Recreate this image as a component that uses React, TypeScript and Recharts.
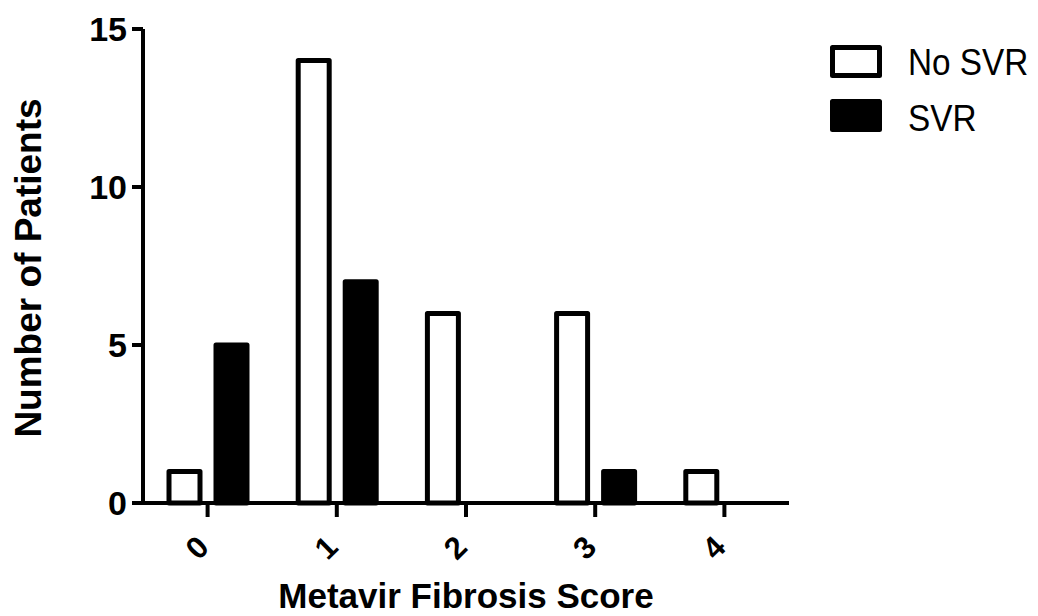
import { BarChart, Bar, XAxis, YAxis, Legend } from 'recharts';

const scores = ['0', '1', '2', '3', '4'];
const noSvr = [1, 14, 6, 6, 1];
const svr = [5, 7, 0, 1, 0];
const yTicks = [0, 5, 10, 15];

const seriesList = [
  { name: 'No SVR', fill: '#ffffff' },
  { name: 'SVR', fill: '#000000' },
];

const data = scores.map((score, i) => ({ score, 'No SVR': noSvr[i], SVR: svr[i] }));

const font = '"Liberation Sans", Arial, Helvetica, sans-serif';

const XTick = (props: any) => {
  const { x, y, payload } = props;
  const ax = x + 3;
  const ay = y + 30;
  return (
    <text
      x={ax}
      y={ay}
      transform={`rotate(-45, ${ax}, ${ay})`}
      textAnchor='end'
      fontSize={31}
      fontWeight='bold'
      fontFamily={font}
      fill='#000'
    >
      {payload.value}
    </text>
  );
};

const YTitle = (props: any) => {
  const { viewBox } = props;
  const cx = 41;
  const cy = viewBox.y + viewBox.height / 2 + 2;
  return (
    <text
      x={cx}
      y={cy}
      transform={`rotate(-90, ${cx}, ${cy})`}
      textAnchor='middle'
      fontSize={37}
      fontWeight='bold'
      fontFamily={font}
      fill='#000'
    >
      Number of Patients
    </text>
  );
};

const XTitle = (props: any) => {
  const { viewBox } = props;
  return (
    <text
      x={viewBox.x + viewBox.width / 2}
      y={viewBox.y + 105}
      textAnchor='middle'
      fontSize={35}
      fontWeight='bold'
      fontFamily={font}
      fill='#000'
    >
      Metavir Fibrosis Score
    </text>
  );
};

const renderLegend = () => (
  <svg width={218} height={150} style={{ display: 'block' }}>
    {seriesList.map((s, i) => (
      <g key={s.name}>
        <rect
          x={12.5}
          y={47.5 + i * 54}
          width={47}
          height={28}
          fill={s.fill}
          stroke='#000'
          strokeWidth={5}
          strokeLinejoin='round'
        />
        <text
          transform={`translate(88, ${75 + i * 56}) scale(0.9, 1)`}
          fontSize={37}
          fontFamily={font}
          fill='#000'
        >
          {s.name}
        </text>
      </g>
    ))}
  </svg>
);

const axisStyle = { stroke: '#000', strokeWidth: 4 };

export default function App() {
  return (
    <div style={{ position: 'absolute', left: 0, top: 0, background: '#fff' }}>
      <BarChart
        width={1038}
        height={616}
        data={data}
        margin={{ top: 29, right: 249, bottom: 0, left: 0 }}
        barSize={31}
        barGap={16}
      >
        <XAxis
          dataKey='score'
          height={113}
          tickSize={14}
          tickMargin={2}
          axisLine={axisStyle}
          tickLine={{ stroke: '#000', strokeWidth: 4 }}
          tick={<XTick />}
          interval={0}
          label={{ content: <XTitle /> }}
        />
        <YAxis
          width={143}
          domain={[0, 15]}
          ticks={yTicks}
          tickSize={11}
          tickMargin={5}
          axisLine={axisStyle}
          tickLine={{ stroke: '#000', strokeWidth: 4 }}
          tick={{ fontSize: 34, fontWeight: 'bold', fill: '#000', fontFamily: font }}
          label={{ content: <YTitle /> }}
        />
        <Legend
          layout='vertical'
          align='center'
          verticalAlign='middle'
          content={renderLegend}
          wrapperStyle={{ top: 0, left: 820, width: 218, height: 150 }}
        />
        {seriesList.map((s) => (
          <Bar
            key={s.name}
            dataKey={s.name}
            fill={s.fill}
            stroke='#000'
            strokeWidth={5}
            strokeLinejoin='round'
            isAnimationActive={false}
          />
        ))}
      </BarChart>
    </div>
  );
}
